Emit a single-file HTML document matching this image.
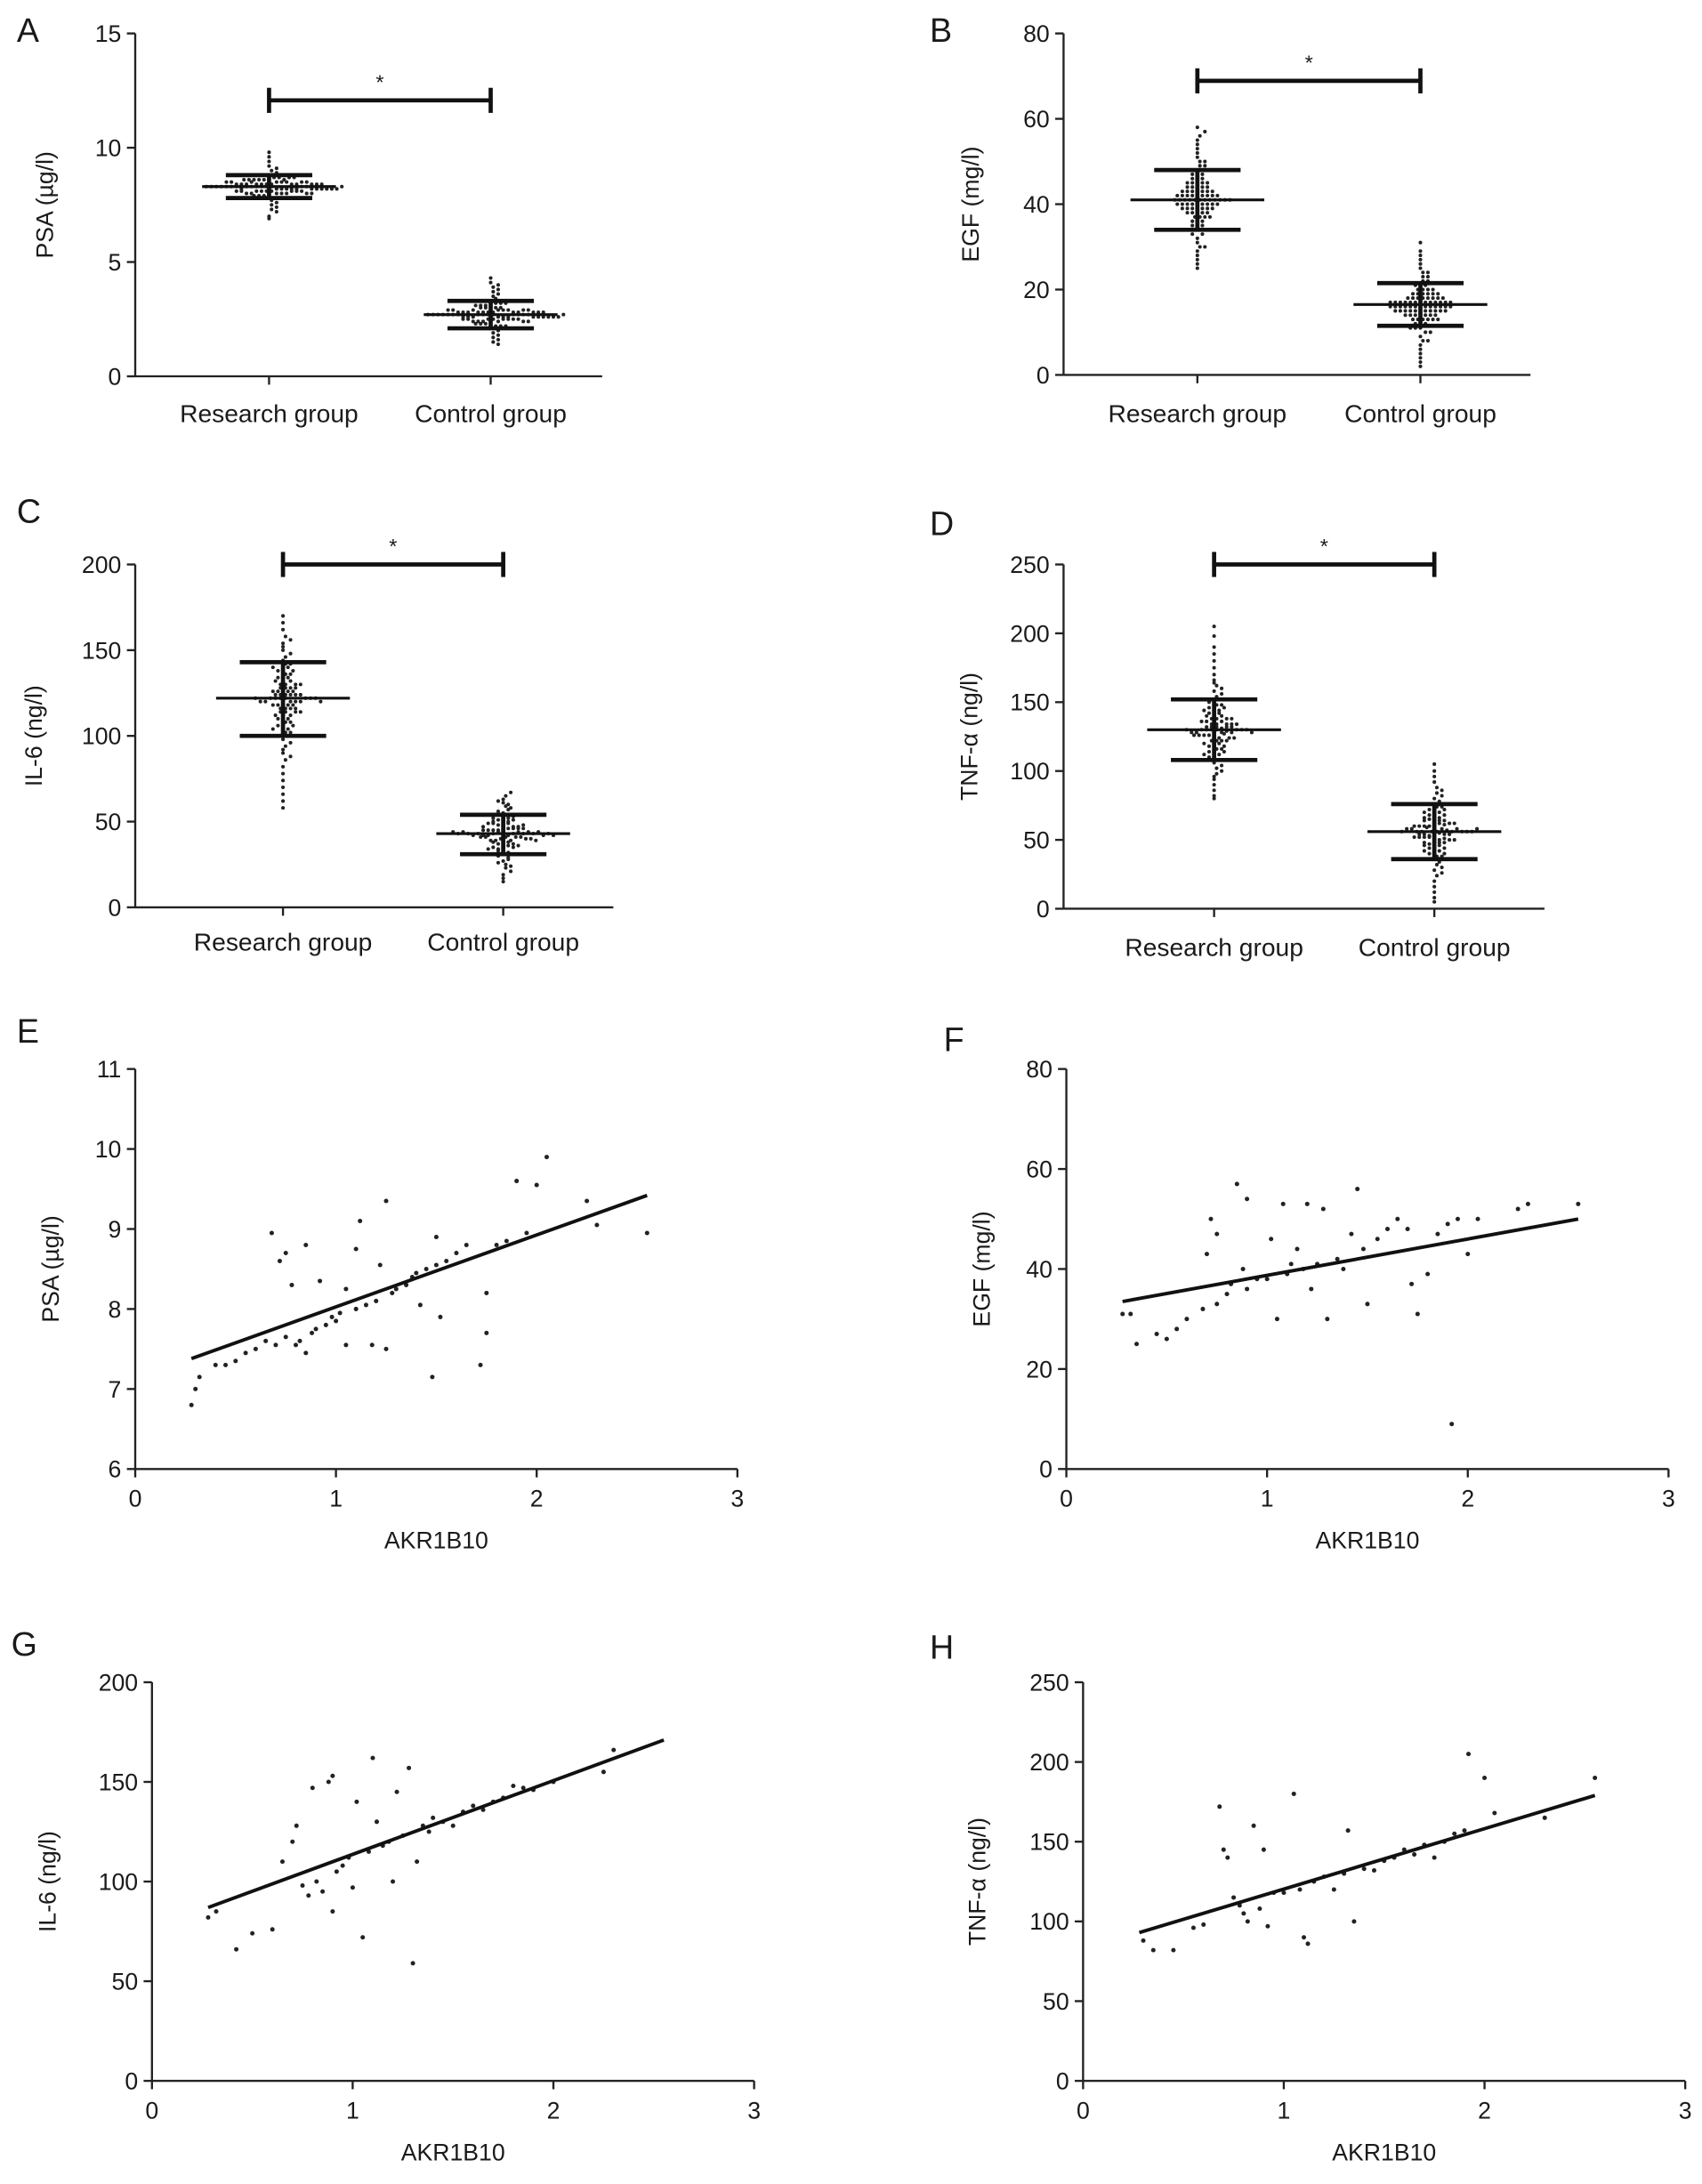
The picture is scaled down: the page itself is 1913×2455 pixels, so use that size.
<!DOCTYPE html>
<html><head><meta charset="utf-8"><style>
html,body{margin:0;padding:0;background:#fff}
svg{display:block}
text{font-family:"Liberation Sans",Arial,sans-serif;fill:#1a1a1a}
</style></head><body>
<svg id="fig" xmlns="http://www.w3.org/2000/svg" width="1913" height="2455" viewBox="0 0 1221 1567"></svg>
<script>
// ---- data ----
const groupCats = ["Research group","Control group"];
const psaResearch=[8.3,8.2,8.4,8.1,8.5,8.3,8.0,8.6,8.2,8.4,7.9,8.7,8.3,8.1,8.5,8.2,7.8,8.8,8.3,8.4,8.0,8.6,8.2,7.7,8.9,8.3,8.1,8.5,9.0,7.6,8.4,8.2,7.5,9.2,8.3,8.0,8.7,7.4,9.4,8.1,8.6,7.3,9.6,8.3,7.2,9.8,8.4,7.0,8.2,8.5,7.9,8.8,8.1,8.3,8.0,8.6,7.8,8.4,6.9,9.1,8.3,8.2,8.4,8.1,8.5,8.3,8.2,8.4,8.0,8.6,8.3,8.1,8.5,8.2,8.4,7.9,8.7,8.3,8.2,8.4,8.1,8.5,8.0,8.6,8.3,7.8,8.8,8.2,8.4,8.3,8.1,8.5,8.2,8.4,7.9,8.7,8.3,8.0,8.6,8.3];
const psaControl=[2.7,2.6,2.8,2.5,2.9,2.7,2.4,3.0,2.6,2.8,2.3,3.1,2.7,2.5,2.9,2.2,3.2,2.6,2.8,2.1,3.3,2.7,2.0,3.4,2.5,2.9,1.9,3.5,2.7,1.8,3.6,2.6,1.7,3.7,2.8,1.6,3.8,2.4,3.9,1.5,4.0,2.7,4.1,1.4,4.3,2.6,3.0,2.3,2.8,2.7,3.1,2.5,2.9,2.2,2.6,3.2,2.7,2.4,3.3,2.8,2.7,2.6,2.8,2.5,2.9,2.7,2.6,2.8,2.4,3.0,2.7,2.5,2.9,2.6,2.8,2.3,3.1,2.7,2.6,2.8,2.5,2.9,2.4,3.0,2.7,2.2,3.2,2.6,2.8,2.7,2.5,2.9,2.6,2.8,2.3,3.1,2.7,2.4,3.0,2.7];
const egfResearch=[41,40,42,39,43,38,44,37,45,36,46,35,47,34,48,33,49,32,50,31,51,30,52,29,53,28,54,27,55,26,56,25,57,58,41,40,42,43,39,38,44,45,37,36,46,47,35,41,42,40,44,38,49,33,50,30,41,39,43,45,41,40,42,39,43,41,40,42,38,44,41,37,45,40,42,39,43,36,46,41,40,42,39,43,35,47,41,38,44,40,42,41,39,43,37,45,41,40,42,41];
const egfControl=[16,17,15,18,14,19,13,20,12,21,11,22,10,23,9,24,8,25,7,26,6,27,5,28,4,29,3,31,2,16,17,15,18,14,19,13,20,12,21,16,17,15,18,14,19,11,22,16,17,15,13,20,10,23,8,24,16,17,18,15,16,17,15,18,14,16,17,15,19,13,16,17,15,18,14,20,12,16,17,15,18,14,19,13,16,17,21,11,16,15,17,18,14,16,17,15,19,13,16,17];
const il6Research=[122,118,126,114,130,110,134,106,138,102,142,98,146,94,150,90,154,86,158,82,162,78,166,74,170,70,66,62,58,120,124,116,128,112,132,108,136,104,140,100,144,96,148,122,118,126,114,130,110,134,106,138,120,124,116,128,92,152,88,156,122,118,126,114,130,120,124,110,134,122,116,128,106,138,122,118,126,112,132,120,124,102,142,122,116,128,108,136,120,124,122,118,126,114,130,104,140,122,120,124];
const il6Control=[43,41,45,39,47,37,49,35,51,33,53,31,55,29,57,27,59,25,61,23,63,21,65,19,67,17,15,42,44,40,46,38,48,36,50,34,52,32,54,30,56,28,58,43,41,45,39,47,37,49,35,51,26,60,24,62,43,44,42,46,43,41,45,39,47,42,44,37,49,43,40,46,35,51,43,41,45,38,48,42,44,33,53,43,40,46,36,50,42,44,43,41,45,39,47,34,52,43,42,44];
const tnfResearch=[130,126,134,122,138,118,142,114,146,110,150,106,154,102,158,98,162,94,166,90,170,86,175,82,180,80,185,190,198,205,128,132,124,136,120,140,116,144,112,148,108,152,104,156,130,126,134,122,138,118,142,114,146,100,160,96,164,129,131,127,130,126,134,122,138,128,132,118,142,130,124,136,114,146,130,126,134,120,140,128,132,110,150,130,124,136,116,144,128,132,130,126,134,122,138,112,148,130,128,132];
const tnfControl=[56,52,60,48,64,44,68,40,72,36,76,32,80,28,84,24,88,20,92,16,96,12,100,105,8,5,54,58,50,62,46,66,42,70,38,74,34,78,30,82,26,86,56,52,60,48,64,44,68,40,72,55,57,53,59,51,61,47,65,56,56,52,60,48,64,54,58,44,68,56,50,62,40,72,56,52,60,46,66,54,58,36,76,56,50,62,42,70,54,58,56,52,60,48,64,38,74,56,54,58];
// mean, sd-low, sd-high per group
const psaStats=[[8.3,7.8,8.8],[2.7,2.1,3.3]];
const egfStats=[[41,34,48],[16.5,11.5,21.5]];
const il6Stats=[[122,100,143],[43,31,54]];
const tnfStats=[[130,108,152],[56,36,76]];
// scatter data [AKR1B10, value]
const psaScatter=[[0.28,6.8],[0.3,7.0],[0.32,7.15],[0.4,7.3],[0.45,7.3],[0.5,7.35],[0.55,7.45],[0.6,7.5],[0.65,7.6],[0.68,8.95],[0.7,7.55],[0.72,8.6],[0.75,8.7],[0.75,7.65],[0.78,8.3],[0.8,7.55],[0.82,7.6],[0.85,7.45],[0.85,8.8],[0.88,7.7],[0.9,7.75],[0.92,8.35],[0.95,7.8],[0.98,7.9],[1.0,7.85],[1.02,7.95],[1.05,8.25],[1.05,7.55],[1.1,8.0],[1.1,8.75],[1.12,9.1],[1.15,8.05],[1.18,7.55],[1.2,8.1],[1.22,8.55],[1.25,9.35],[1.25,7.5],[1.28,8.2],[1.3,8.25],[1.35,8.3],[1.38,8.4],[1.4,8.45],[1.42,8.05],[1.45,8.5],[1.48,7.15],[1.5,8.55],[1.5,8.9],[1.52,7.9],[1.55,8.6],[1.6,8.7],[1.65,8.8],[1.72,7.3],[1.75,8.2],[1.75,7.7],[1.8,8.8],[1.85,8.85],[1.9,9.6],[1.95,8.95],[2.0,9.55],[2.05,9.9],[2.25,9.35],[2.3,9.05],[2.55,8.95]];
const egfScatter=[[0.28,31],[0.32,31],[0.35,25],[0.45,27],[0.5,26],[0.55,28],[0.6,30],[0.68,32],[0.7,43],[0.72,50],[0.75,47],[0.75,33],[0.8,35],[0.82,37],[0.85,57],[0.88,40],[0.9,54],[0.9,36],[0.95,38],[1.0,38],[1.02,46],[1.05,30],[1.08,53],[1.1,39],[1.12,41],[1.15,44],[1.18,40],[1.2,53],[1.22,36],[1.25,41],[1.28,52],[1.3,30],[1.35,42],[1.38,40],[1.42,47],[1.45,56],[1.48,44],[1.5,33],[1.55,46],[1.6,48],[1.65,50],[1.7,48],[1.72,37],[1.75,31],[1.8,39],[1.85,47],[1.9,49],[1.92,9],[1.95,50],[2.0,43],[2.05,50],[2.25,52],[2.3,53],[2.55,53]];
const il6Scatter=[[0.28,82],[0.32,85],[0.42,66],[0.5,74],[0.6,76],[0.65,110],[0.7,120],[0.72,128],[0.75,98],[0.78,93],[0.8,147],[0.82,100],[0.85,95],[0.88,150],[0.9,85],[0.9,153],[0.92,105],[0.95,108],[0.98,112],[1.0,97],[1.02,140],[1.05,72],[1.08,115],[1.1,162],[1.12,130],[1.15,118],[1.18,120],[1.2,100],[1.22,145],[1.25,123],[1.28,157],[1.3,59],[1.32,110],[1.35,128],[1.38,125],[1.4,132],[1.45,130],[1.5,128],[1.55,135],[1.6,138],[1.65,136],[1.7,140],[1.75,142],[1.8,148],[1.85,147],[1.9,146],[2.0,150],[2.25,155],[2.3,166]];
const tnfScatter=[[0.3,88],[0.35,82],[0.45,82],[0.55,96],[0.6,98],[0.68,172],[0.7,145],[0.72,140],[0.75,115],[0.78,110],[0.8,105],[0.82,100],[0.85,160],[0.88,108],[0.9,145],[0.92,97],[0.95,118],[1.0,118],[1.05,180],[1.08,120],[1.1,90],[1.12,86],[1.15,125],[1.2,128],[1.25,120],[1.3,130],[1.32,157],[1.35,100],[1.4,133],[1.45,132],[1.5,138],[1.55,140],[1.6,145],[1.65,142],[1.7,148],[1.75,140],[1.8,150],[1.85,155],[1.9,157],[1.92,205],[2.0,190],[2.05,168],[2.3,165],[2.55,190]];
// regression line endpoints [x0,y0,x1,y1]
const psaFit=[0.28,7.38,2.55,9.42];
const egfFit=[0.28,33.5,2.55,50];
const il6Fit=[0.28,87,2.55,171];
const tnfFit=[0.28,93,2.55,179];
const xTicks=[0,1,2,3];

const NS="http://www.w3.org/2000/svg";
const svg=document.getElementById('fig');
function mk(tag,attrs,parent,txt){const e=document.createElementNS(NS,tag);for(const k in attrs)e.setAttribute(k,attrs[k]);if(txt!==undefined)e.textContent=txt;(parent||svg).appendChild(e);return e;}

function yAxis(g,ax,x,yTop,yBot,vmin,vmax,ticks,title,titleX){
  const sy=v=>yBot-(v-vmin)/(vmax-vmin)*(yBot-yTop);
  const l=mk('line',{x1:x,y1:yTop,x2:x,y2:yBot,stroke:'#222','stroke-width':1.5},g);
  
  
  ticks.forEach(t=>{
    mk('line',{x1:x-6,y1:sy(t),x2:x,y2:sy(t),stroke:'#222','stroke-width':1.5},g);
    const tt=mk('text',{x:x-10,y:sy(t)+6,'text-anchor':'end','font-size':17},g,String(t));
    
    
  });
  const cy=(yTop+yBot)/2;
  const ti=mk('text',{x:titleX,y:cy,'text-anchor':'middle','font-size':17,transform:`rotate(-90 ${titleX} ${cy})`},g,title);
  
  
  return sy;
}
function letter(g,ch,x,y){const t=mk('text',{x:x,y:y,'font-size':24},g,ch);
  
  }

function swarmPanel(o){
  const g=mk('g',{},svg);
  
  
  letter(g,o.id.toUpperCase(),o.lx,o.ly);
  const sy=yAxis(g,o.id,o.ax,o.yTop,o.yBot,0,o.vmax,o.ticks,o.title,o.titleX);
  const xa=mk('line',{x1:o.ax,y1:o.yBot,x2:o.axEnd,y2:o.yBot,stroke:'#222','stroke-width':1.5},g);
  
  
  [o.r,o.c].forEach((vals,i)=>{
    const cx=o.cx[i];
    mk('line',{x1:cx,y1:o.yBot,x2:cx,y2:o.yBot+6,stroke:'#222','stroke-width':1.5},g);
    const lab=mk('text',{x:cx,y:o.labY,'text-anchor':'middle','font-size':18},g,groupCats[i]);
    
    
    const bins={};
    vals.forEach(v=>{const b=Math.round(sy(v)/3.2);(bins[b]=bins[b]||[]).push(v);});
    Object.keys(bins).forEach(b=>{
      const arr=bins[b];
      arr.forEach((v,k)=>{
        const off=(k%2?1:-1)*Math.ceil(k/2)*3.6 + (arr.length%2?0:1.8);
        const d=mk('circle',{cx:cx+off,cy:sy(v),r:1.3,fill:'#222'},g);
        
        
      });
    });
    const st=o.stats[i];
    const eb=mk('g',{stroke:'#111','stroke-width':3},g);
    
    
    mk('line',{x1:cx,y1:sy(st[1]),x2:cx,y2:sy(st[2])},eb);
    mk('line',{x1:cx-31,y1:sy(st[1]),x2:cx+31,y2:sy(st[1])},eb);
    mk('line',{x1:cx-31,y1:sy(st[2]),x2:cx+31,y2:sy(st[2])},eb);
    const m=mk('line',{x1:cx-48,y1:sy(st[0]),x2:cx+48,y2:sy(st[0]),stroke:'#111','stroke-width':2},g);
    
    
  });
  const br=mk('g',{stroke:'#111','stroke-width':3},g);
  
  
  mk('line',{x1:o.cx[0],y1:o.brY,x2:o.cx[1],y2:o.brY},br);
  mk('line',{x1:o.cx[0],y1:o.brY-9,x2:o.cx[0],y2:o.brY+9},br);
  mk('line',{x1:o.cx[1],y1:o.brY-9,x2:o.cx[1],y2:o.brY+9},br);
  const s=mk('text',{x:(o.cx[0]+o.cx[1])/2,y:o.brY-8,'text-anchor':'middle','font-size':15},g,'*');
  
  
}

function scatterPanel(o){
  const g=mk('g',{},svg);
  
  
  letter(g,o.id.toUpperCase(),o.lx,o.ly);
  const sy=yAxis(g,o.id,o.ax,o.yTop,o.yBot,o.vmin,o.vmax,o.ticks,o.title,o.titleX);
  const sx=v=>o.ax+(v-0)/3*(o.axEnd-o.ax);
  const xa=mk('line',{x1:o.ax,y1:o.yBot,x2:o.axEnd,y2:o.yBot,stroke:'#222','stroke-width':1.5},g);
  
  
  xTicks.forEach(t=>{
    mk('line',{x1:sx(t),y1:o.yBot,x2:sx(t),y2:o.yBot+6,stroke:'#222','stroke-width':1.5},g);
    const tt=mk('text',{x:sx(t),y:o.yBot+27,'text-anchor':'middle','font-size':17},g,String(t));
    
    
  });
  const xt=mk('text',{x:(o.ax+o.axEnd)/2,y:o.yBot+57,'text-anchor':'middle','font-size':17},g,'AKR1B10');
  
  
  o.pts.forEach(p=>{
    const d=mk('circle',{cx:sx(p[0]),cy:sy(p[1]),r:1.6,fill:'#222'},g);
    
    
  });
  const f=o.fit;
  const fl=mk('line',{x1:sx(f[0]),y1:sy(f[1]),x2:sx(f[2]),y2:sy(f[3]),stroke:'#111','stroke-width':2.5},g);
  
  
}

swarmPanel({id:'a',lx:12,ly:30,ax:97,axEnd:432,yTop:24,yBot:270,vmax:15,ticks:[0,5,10,15],title:'PSA (µg/l)',titleX:38,cx:[193,352],labY:303,r:psaResearch,c:psaControl,stats:psaStats,brY:72});
swarmPanel({id:'b',lx:667,ly:30,ax:763,axEnd:1098,yTop:24,yBot:269,vmax:80,ticks:[0,20,40,60,80],title:'EGF (mg/l)',titleX:702,cx:[859,1019],labY:303,r:egfResearch,c:egfControl,stats:egfStats,brY:58});
swarmPanel({id:'c',lx:12,ly:375,ax:97,axEnd:440,yTop:405,yBot:651,vmax:200,ticks:[0,50,100,150,200],title:'IL-6 (ng/l)',titleX:30,cx:[203,361],labY:682,r:il6Research,c:il6Control,stats:il6Stats,brY:405});
swarmPanel({id:'d',lx:667,ly:384,ax:763,axEnd:1108,yTop:405,yBot:652,vmax:250,ticks:[0,50,100,150,200,250],title:'TNF-α (ng/l)',titleX:701,cx:[871,1029],labY:686,r:tnfResearch,c:tnfControl,stats:tnfStats,brY:405});

scatterPanel({id:'e',lx:12,ly:748,ax:97,axEnd:529,yTop:767,yBot:1054,vmin:6,vmax:11,ticks:[6,7,8,9,10,11],title:'PSA (µg/l)',titleX:42,pts:psaScatter,fit:psaFit});
scatterPanel({id:'f',lx:677,ly:754,ax:765,axEnd:1197,yTop:767,yBot:1054,vmin:0,vmax:80,ticks:[0,20,40,60,80],title:'EGF (mg/l)',titleX:710,pts:egfScatter,fit:egfFit});
scatterPanel({id:'g',lx:8,ly:1188,ax:109,axEnd:541,yTop:1207,yBot:1493,vmin:0,vmax:200,ticks:[0,50,100,150,200],title:'IL-6 (ng/l)',titleX:40,pts:il6Scatter,fit:il6Fit});
scatterPanel({id:'h',lx:667,ly:1190,ax:777,axEnd:1209,yTop:1207,yBot:1493,vmin:0,vmax:250,ticks:[0,50,100,150,200,250],title:'TNF-α (ng/l)',titleX:707,pts:tnfScatter,fit:tnfFit});
</script>
</body></html>
